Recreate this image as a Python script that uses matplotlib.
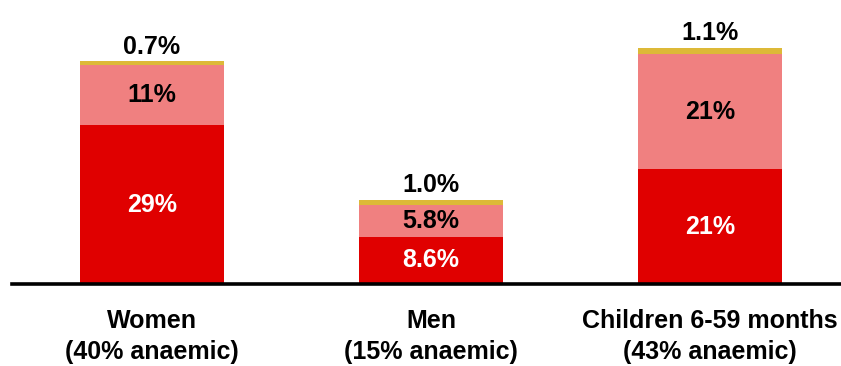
import matplotlib.pyplot as plt
import numpy as np

plt.rcParams["font.family"] = ["Liberation Sans", "DejaVu Sans"]
plt.rcParams["font.weight"] = "bold"

groups = ["Women\n(40% anaemic)", "Men\n(15% anaemic)", "Children 6-59 months\n(43% anaemic)"]
bottom_vals = [29, 8.6, 21]
middle_vals = [11, 5.8, 21]
top_vals = [0.7, 1.0, 1.1]
bottom_labels = ["29%", "8.6%", "21%"]
middle_labels = ["11%", "5.8%", "21%"]
top_labels = ["0.7%", "1.0%", "1.1%"]

red = "#e00000"
pink = "#f08080"
gold = "#ddb938"

fig = plt.figure(figsize=(8.41, 3.66), dpi=100)
ax = fig.add_axes([12 / 841, 82 / 366, 828 / 841, 284 / 366])

x = np.arange(len(groups))
w = 0.516
b1 = np.array(bottom_vals)
b2 = b1 + np.array(middle_vals)

ax.bar(x, bottom_vals, w, color=red)
ax.bar(x, middle_vals, w, bottom=b1, color=pink)
ax.bar(x, top_vals, w, bottom=b2, color=gold)

for i in range(len(x)):
    ax.text(x[i], bottom_vals[i] / 2, bottom_labels[i], ha="center", va="center",
            color="white", fontsize=18, fontweight="bold")
    ax.text(x[i], b1[i] + middle_vals[i] / 2, middle_labels[i], ha="center", va="center",
            color="black", fontsize=18, fontweight="bold")
    ax.annotate(top_labels[i], (x[i], b2[i] + top_vals[i]), xytext=(0, 2),
                textcoords="offset points", ha="center", va="bottom",
                color="black", fontsize=18, fontweight="bold")

ax.set_xlim(-0.502, 2.466)
ax.set_ylim(0, 51.9)
ax.set_xticks(x)
ax.set_xticklabels(groups, fontsize=18, fontweight="bold", linespacing=1.38)
ax.tick_params(axis="x", length=0, pad=18)
ax.set_yticks([])
for s in ["top", "left", "right"]:
    ax.spines[s].set_visible(False)
ax.spines["bottom"].set_linewidth(2.6)

fig.savefig("out.png", dpi=100)
